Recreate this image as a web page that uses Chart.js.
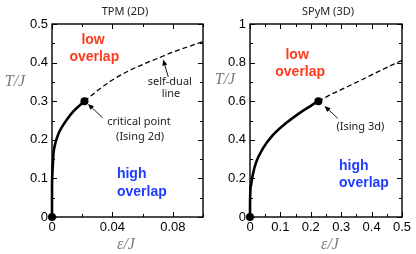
<!DOCTYPE html>
<html>
<head>
<meta charset="utf-8">
<script src="https://cdn.jsdelivr.net/npm/chart.js@4.4.1/dist/chart.umd.min.js"></script>
<style>
  html, body { margin: 0; padding: 0; background: #fff; }
  #wrap { position: relative; width: 416px; height: 254px; }
  canvas { position: absolute; top: 0; }
  #tpm { left: 0; }
  #spym { left: 208px; }
</style>
</head>
<body>
<div id="wrap">
  <canvas id="tpm" width="208" height="254"></canvas>
  <canvas id="spym" width="208" height="254"></canvas>
</div>
<script>
// TPM (2D) panel
const tpmSolidEps = [0, 0.00002, 0.0001, 0.0004, 0.001, 0.002, 0.0033, 0.005, 0.0077, 0.0105, 0.0143, 0.018, 0.0215];
const tpmSolidT   = [0, 0.07, 0.10, 0.125, 0.165, 0.188, 0.205, 0.222, 0.24, 0.256, 0.274, 0.288, 0.3];
const tpmDashEps  = [0.0215, 0.03, 0.04, 0.05, 0.06, 0.07, 0.08, 0.09, 0.1];
const tpmDashT    = [0.3, 0.327, 0.355, 0.377, 0.395, 0.411, 0.427, 0.441, 0.454];
const tpmDotEps   = [0, 0.0215];
const tpmDotT     = [0, 0.3];
const tpmXLabels  = [0, 0.04, 0.08];
const tpmYLabels  = [0, 0.1, 0.2, 0.3, 0.4, 0.5];

// SPyM (3D) panel
const spymSolidEps = [0, 0.0002, 0.001, 0.004, 0.009, 0.02, 0.042, 0.075, 0.119, 0.165, 0.2, 0.225];
const spymSolidT   = [0, 0.07, 0.13, 0.17, 0.218, 0.283, 0.354, 0.424, 0.487, 0.541, 0.576, 0.6];
const spymDashEps  = [0.225, 0.26, 0.3, 0.36, 0.42, 0.5];
const spymDashT    = [0.6, 0.63, 0.66, 0.705, 0.752, 0.812];
const spymDotEps   = [0, 0.225];
const spymDotT     = [0, 0.6];
const spymXLabels  = [0, 0.1, 0.2, 0.3, 0.4, 0.5];
const spymYLabels  = [0, 0.2, 0.4, 0.6, 0.8, 1];

const RED = '#ff3b1f';
const BLUE = '#1f3cff';
const BOLD = 'bold 14px "Liberation Sans", Arial, sans-serif';
const SMALL = '11px "Noto Sans", "DejaVu Sans", sans-serif';

function pts(xs, ys) {
    return xs.map((x, i) => ({ x: x, y: ys[i] }));
}

function fmt(v) {
    return String(parseFloat(v.toFixed(3)));
}

function hasLabel(list, v) {
    return list.some(l => Math.abs(l - v) < 1e-9);
}

function scale(min, max, step, labels, fit, isX) {
    return {
        type: 'linear',
        min: min,
        max: max,
        grid: { display: false, drawTicks: false },
        border: { display: false },
        ticks: {
            stepSize: step,
            autoSkip: false,
            maxRotation: 0,
            padding: isX ? 3 : 4,
            color: '#000',
            font: { family: '"Liberation Sans", Arial, sans-serif', size: 13 },
            callback: v => hasLabel(labels, v) ? fmt(v) : ''
        },
        afterFit: s => { if (isX) s.height = fit; else s.width = fit; }
    };
}

function decor(p) {
    return {
        id: 'decor',
        beforeDatasetsDraw(chart) {
            const ctx = chart.ctx, a = chart.chartArea;
            const xs = chart.scales.x, ys = chart.scales.y;
            ctx.save();
            ctx.strokeStyle = '#000';
            ctx.lineWidth = 1;
            ctx.beginPath();
            xs.ticks.forEach(t => {
                const px = Math.round(xs.getPixelForValue(t.value)) + 0.5;
                const len = hasLabel(p.xLabels, t.value) ? 5 : 3;
                ctx.moveTo(px, a.bottom); ctx.lineTo(px, a.bottom - len);
                ctx.moveTo(px, a.top); ctx.lineTo(px, a.top + len);
            });
            ys.ticks.forEach(t => {
                const py = Math.round(ys.getPixelForValue(t.value)) + 0.5;
                const len = hasLabel(p.yLabels, t.value) ? 5 : 3;
                ctx.moveTo(a.left, py); ctx.lineTo(a.left + len, py);
                ctx.moveTo(a.right, py); ctx.lineTo(a.right - len, py);
            });
            ctx.stroke();
            ctx.lineWidth = 1.4;
            ctx.strokeRect(a.left, a.top, a.right - a.left, a.bottom - a.top);

            // panel title and axis titles
            ctx.fillStyle = '#222';
            ctx.font = SMALL;
            ctx.textAlign = 'center';
            ctx.textBaseline = 'middle';
            ctx.fillText(p.title, p.titlePos[0], p.titlePos[1]);
            ctx.fillStyle = '#7a7a7a';
            ctx.font = 'italic 16px "Liberation Serif", "DejaVu Serif", serif';
            ctx.fillText('T/J', p.yTitlePos[0], p.yTitlePos[1]);
            ctx.fillText('ε/J', p.xTitlePos[0], p.xTitlePos[1]);
            ctx.restore();
        },
        afterDatasetsDraw(chart) {
            const ctx = chart.ctx;
            const xs = chart.scales.x, ys = chart.scales.y;
            ctx.save();
            ctx.textBaseline = 'middle';
            p.notes.forEach(n => {
                ctx.font = n.font;
                ctx.fillStyle = n.color;
                ctx.textAlign = n.align || 'center';
                ctx.fillText(n.text, xs.getPixelForValue(n.x), ys.getPixelForValue(n.y));
            });
            // arrows pointing at the lines
            ctx.strokeStyle = '#000';
            ctx.fillStyle = '#000';
            ctx.lineWidth = 0.9;
            p.arrows.forEach(ar => {
                const x0 = xs.getPixelForValue(ar.from[0]), y0 = ys.getPixelForValue(ar.from[1]);
                const x1 = xs.getPixelForValue(ar.to[0]), y1 = ys.getPixelForValue(ar.to[1]);
                const ang = Math.atan2(y1 - y0, x1 - x0);
                ctx.beginPath();
                ctx.moveTo(x0, y0);
                ctx.lineTo(x1 - 3 * Math.cos(ang), y1 - 3 * Math.sin(ang));
                ctx.stroke();
                ctx.beginPath();
                ctx.moveTo(x1, y1);
                ctx.lineTo(x1 - 6 * Math.cos(ang) + 2.5 * Math.sin(ang), y1 - 6 * Math.sin(ang) - 2.5 * Math.cos(ang));
                ctx.lineTo(x1 - 6 * Math.cos(ang) - 2.5 * Math.sin(ang), y1 - 6 * Math.sin(ang) + 2.5 * Math.cos(ang));
                ctx.closePath();
                ctx.fill();
            });
            ctx.restore();
        }
    };
}

function makePanel(id, p) {
    new Chart(document.getElementById(id), {
        type: 'scatter',
        data: {
            datasets: [
                {
                    data: pts(p.solidX, p.solidY),
                    showLine: true,
                    borderColor: '#000',
                    borderWidth: 2.6,
                    pointRadius: 0,
                    cubicInterpolationMode: 'monotone',
                    clip: false
                },
                {
                    data: pts(p.dashX, p.dashY),
                    showLine: true,
                    borderColor: '#000',
                    borderWidth: 1.3,
                    borderDash: [5, 3],
                    pointRadius: 0,
                    cubicInterpolationMode: 'monotone',
                    clip: false
                },
                {
                    data: pts(p.dotX, p.dotY),
                    showLine: false,
                    pointRadius: 4,
                    pointBackgroundColor: '#000',
                    pointBorderWidth: 0,
                    clip: false
                }
            ]
        },
        options: {
            responsive: false,
            animation: false,
            layout: { padding: { top: 24, right: p.padRight, left: 0, bottom: 0 } },
            plugins: { legend: { display: false }, tooltip: { enabled: false } },
            scales: {
                x: scale(p.xMin, p.xMax, p.xStep, p.xLabels, 37, true),
                y: scale(p.yMin, p.yMax, p.yStep, p.yLabels, p.yWidth, false)
            }
        },
        plugins: [decor(p)]
    });
}

makePanel('tpm', {
    solidX: tpmSolidEps, solidY: tpmSolidT,
    dashX: tpmDashEps, dashY: tpmDashT,
    dotX: tpmDotEps, dotY: tpmDotT,
    xLabels: tpmXLabels, yLabels: tpmYLabels,
    xMin: 0, xMax: 0.1, xStep: 0.02,
    yMin: 0, yMax: 0.5, yStep: 0.05,
    yWidth: 52, padRight: 5,
    title: 'TPM (2D)', titlePos: [125, 12],
    yTitlePos: [15, 82], xTitlePos: [126, 245],
    notes: [
        { text: 'low', x: 0.0272, y: 0.459, color: RED, font: BOLD },
        { text: 'overlap', x: 0.028, y: 0.414, color: RED, font: BOLD },
        { text: 'high', x: 0.043, y: 0.111, color: BLUE, font: BOLD, align: 'left' },
        { text: 'overlap', x: 0.043, y: 0.065, color: BLUE, font: BOLD, align: 'left' },
        { text: 'self-dual', x: 0.078, y: 0.35, color: '#222', font: SMALL },
        { text: 'line', x: 0.0788, y: 0.319, color: '#222', font: SMALL },
        { text: 'critical point', x: 0.0576, y: 0.246, color: '#222', font: SMALL },
        { text: '(Ising 2d)', x: 0.0583, y: 0.207, color: '#222', font: SMALL }
    ],
    arrows: [
        { from: [0.077, 0.363], to: [0.0736, 0.408] },
        { from: [0.0335, 0.257], to: [0.0238, 0.293] }
    ]
});

makePanel('spym', {
    solidX: spymSolidEps, solidY: spymSolidT,
    dashX: spymDashEps, dashY: spymDashT,
    dotX: spymDotEps, dotY: spymDotT,
    xLabels: spymXLabels, yLabels: spymYLabels,
    xMin: 0, xMax: 0.5, xStep: 0.05,
    yMin: 0, yMax: 1, yStep: 0.1,
    yWidth: 42, padRight: 14,
    title: 'SPyM (3D)', titlePos: [120, 12],
    yTitlePos: [17, 80], xTitlePos: [122, 245],
    notes: [
        { text: 'low', x: 0.155, y: 0.839, color: RED, font: BOLD },
        { text: 'overlap', x: 0.165, y: 0.751, color: RED, font: BOLD },
        { text: 'high', x: 0.293, y: 0.264, color: BLUE, font: BOLD, align: 'left' },
        { text: 'overlap', x: 0.293, y: 0.176, color: BLUE, font: BOLD, align: 'left' },
        { text: '(Ising 3d)', x: 0.363, y: 0.466, color: '#222', font: SMALL }
    ],
    arrows: [
        { from: [0.289, 0.511], to: [0.245, 0.575] }
    ]
});
</script>
</body>
</html>
